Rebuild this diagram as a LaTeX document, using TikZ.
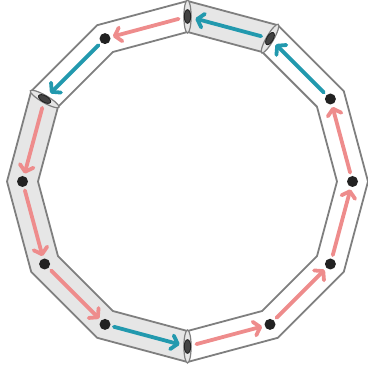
\documentclass[tikz,border=0pt]{standalone}
\usetikzlibrary{arrows.meta,shapes.geometric}
\definecolor{pinkc}{HTML}{EE8C8C}
\definecolor{tealc}{HTML}{2299AE}
\definecolor{bandline}{HTML}{7F7F7F}
\definecolor{bandfill}{HTML}{E6E6E6}
\definecolor{dotc}{HTML}{222222}
\tikzset{
  bandedge/.style={draw=bandline, line width=1.8pt, line join=round},
  dotnode/.style={circle, inner sep=0pt, minimum size=11pt, fill=dotc},
  hiddendot/.style={circle, inner sep=0pt, minimum size=11pt},
  flow/.style={line width=3.8pt, line cap=round,
    -{Straight Barb[length=6pt,width=14pt,line cap=round,line join=round]},
    shorten <=3.5pt, shorten >=2.5pt},
  pinkflow/.style={flow, draw=pinkc},
  tealflow/.style={flow, draw=tealc},
  crosssec/.style={draw=bandline, fill=bandfill, line width=1.2pt},
  enddot/.style={draw=dotc, fill=dotc!85!white, line width=0.9pt}
}
\begin{document}
\begin{tikzpicture}[x=1pt,y=1pt]
\useasboundingbox (0,0) rectangle (367,371);
\coordinate (c) at (187.5,189.5);
% filled band parts
\fill[bandfill] ([shift={(150:180.5)}]c) -- ([shift={(180:180.5)}]c) -- ([shift={(210:180.5)}]c) -- ([shift={(240:180.5)}]c) -- ([shift={(270:180.5)}]c)
  -- ([shift={(270:149.5)}]c) -- ([shift={(240:149.5)}]c) -- ([shift={(210:149.5)}]c) -- ([shift={(180:149.5)}]c) -- ([shift={(150:149.5)}]c) -- cycle;
\fill[bandfill] ([shift={(60:180.5)}]c) -- ([shift={(90:180.5)}]c) -- ([shift={(90:149.5)}]c) -- ([shift={(60:149.5)}]c) -- cycle;
% band outlines
\draw[bandedge] ([shift={(0:180.5)}]c) \foreach \a in {30,60,...,330}{ -- ([shift={(\a:180.5)}]c)} -- cycle;
\draw[bandedge] ([shift={(0:149.5)}]c) \foreach \a in {30,60,...,330}{ -- ([shift={(\a:149.5)}]c)} -- cycle;
% dot nodes
\foreach \i/\a in {0/0,1/30,4/120,6/180,7/210,8/240,10/300,11/330}{
  \node[dotnode] (v\i) at ([shift={(\a:165)}]c) {};
}
\foreach \i/\a in {2/60,3/90,5/150,9/270}{
  \node[hiddendot] (v\i) at ([shift={(\a:165)}]c) {};
}
% cross-sections at tube ends and squashed dots
\foreach \i/\a in {2/60,3/90,5/150,9/270}{
  \draw[crosssec, rotate around={\a:(v\i.center)}] (v\i.center) ellipse [x radius=16.5pt, y radius=3.6pt];
  \draw[enddot, rotate around={\a:(v\i.center)}] (v\i.center) ellipse [x radius=6.8pt, y radius=3.2pt];
}
% flows
\draw[pinkflow] (v3) -- (v4);
\draw[tealflow] (v4) -- (v5);
\draw[pinkflow] (v5) -- (v6);
\draw[pinkflow] (v6) -- (v7);
\draw[pinkflow] (v7) -- (v8);
\draw[tealflow] (v8) -- (v9);
\draw[pinkflow] (v9) -- (v10);
\draw[pinkflow] (v10) -- (v11);
\draw[pinkflow] (v11) -- (v0);
\draw[pinkflow] (v0) -- (v1);
\draw[tealflow] (v1) -- (v2);
\draw[tealflow] (v2) -- (v3);
\end{tikzpicture}
\end{document}
